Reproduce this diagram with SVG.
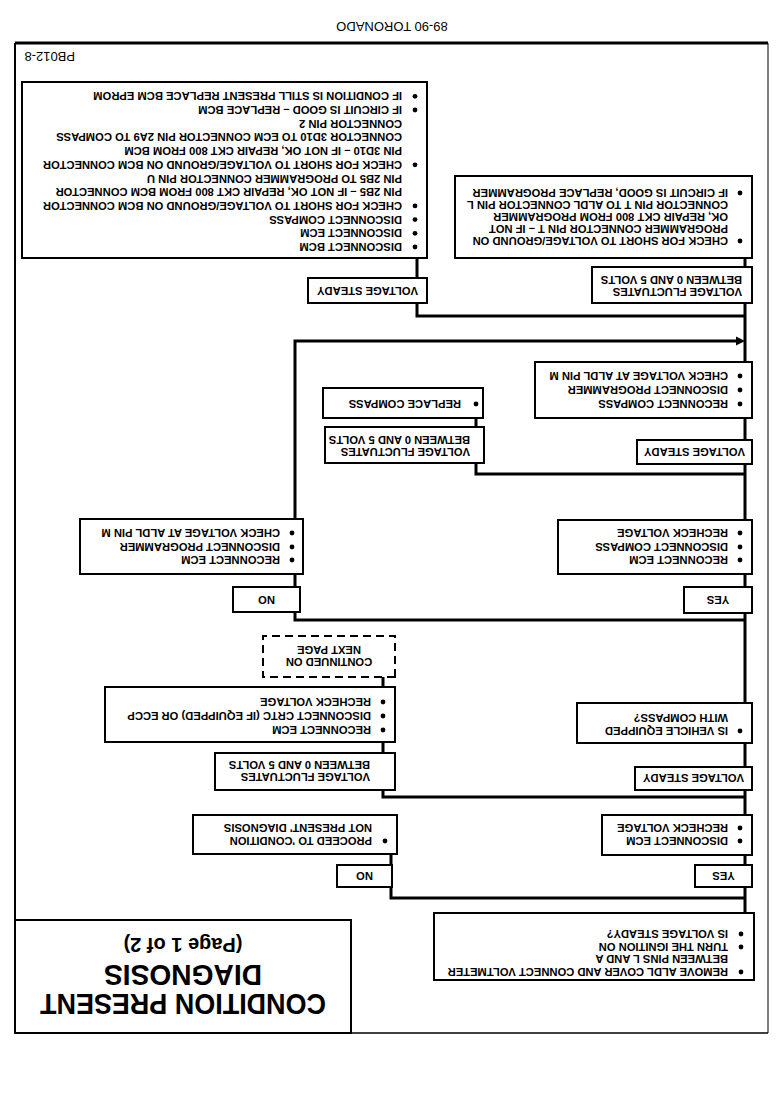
<svg xmlns="http://www.w3.org/2000/svg" width="784" height="1104" viewBox="0 0 784 1104">
<style>
.box{fill:#fff;stroke:#000;stroke-width:2}
.dash{fill:#fff;stroke:#000;stroke-width:2;stroke-dasharray:8 5}
.ln{fill:none;stroke:#000;stroke-width:3}
.fr{fill:none;stroke:#000}
.t{font-family:"Liberation Sans",Arial,sans-serif;font-weight:bold;font-size:11.2px;fill:#000}
.c{text-anchor:middle}
.h{font-family:"Liberation Sans",Arial,sans-serif;font-size:13px;fill:#000}
.ti{font-family:"Liberation Sans",Arial,sans-serif;font-weight:bold;fill:#000;text-anchor:middle}
.bu{fill:#000}
</style>
<rect width="784" height="1104" fill="#fff"/>
<g transform="rotate(180 392 552)">
<g id="frame">
<line class="fr" x1="16" y1="1061" x2="769" y2="1061" stroke-width="3"/>
<line class="fr" x1="769" y1="71" x2="769" y2="1061" stroke-width="2"/>
<line class="fr" x1="16" y1="71" x2="769" y2="71" stroke-width="1.5"/>
<line class="fr" x1="16" y1="71" x2="16" y2="1061" stroke-width="1"/>
<text class="h" x="392" y="1082" text-anchor="middle">89-90 TORONADO</text>
<text class="h" x="709" y="1052" font-size="12">PB012-8</text>
</g>
<g id="connectors">
<path class="ln" d="M39 191V846"/>
<path class="ln" d="M39 206H393V251"/>
<path class="ln" d="M39 307H401V427"/>
<path class="ln" d="M39 484H489V763H44"/>
<polygon class="bu" points="39,763 48,758.5 48,767.5"/>
<path class="ln" d="M39 630H308V686"/>
<path class="ln" d="M39 788H367V846"/>
</g>
<g id="title">
<rect class="box" x="433" y="71" width="336" height="113"/>
<text class="ti" x="601" y="110" font-size="29" textLength="286" lengthAdjust="spacingAndGlyphs">CONDITION PRESENT</text>
<text class="ti" x="601" y="139" font-size="29" textLength="158" lengthAdjust="spacingAndGlyphs">DIAGNOSIS</text>
<text class="ti" x="601" y="166" font-size="20">(Page 1 of 2)</text>
</g>
<g id="n-start">
<rect class="box" x="30" y="124" width="320" height="67"/>
<circle class="bu" cx="43" cy="132" r="2.4"/><circle class="bu" cx="43" cy="157" r="2.4"/><circle class="bu" cx="43" cy="170" r="2.4"/>
<text class="t" x="56" y="136" font-size="10.8">REMOVE ALDL COVER AND CONNECT VOLTMETER</text>
<text class="t" x="56" y="149" font-size="10.8">BETWEEN PINS L AND A</text>
<text class="t" x="56" y="161" font-size="10.8">TURN THE IGNITION ON</text>
<text class="t" x="56" y="174" font-size="10.8">IS VOLTAGE STEADY?</text>
</g>
<g id="n-yes1"><rect class="box" x="32" y="217" width="57" height="22"/><text class="t c" x="60.5" y="232">YES</text></g>
<g id="n-no1"><rect class="box" x="392" y="217" width="55" height="22"/><text class="t c" x="419.5" y="232">NO</text></g>
<g id="n-discecm">
<rect class="box" x="32" y="249" width="150" height="40"/>
<circle class="bu" cx="44" cy="263" r="2.4"/><circle class="bu" cx="44" cy="276" r="2.4"/>
<text class="t" x="56" y="267">DISCONNECT ECM</text>
<text class="t" x="56" y="280">RECHECK VOLTAGE</text>
</g>
<g id="n-proceed">
<rect class="box" x="387" y="250" width="204" height="39"/>
<circle class="bu" cx="399" cy="263" r="2.4"/>
<text class="t" x="412" y="267">PROCEED TO 'CONDITION</text>
<text class="t" x="412" y="280">NOT PRESENT' DIAGNOSIS</text>
</g>
<g id="n-steady2"><rect class="box" x="32" y="314" width="117" height="23"/><text class="t c" x="90.5" y="330">VOLTAGE STEADY</text></g>
<g id="n-fluct2">
<rect class="box" x="389" y="314" width="180" height="37"/>
<text class="t" x="414" y="331">VOLTAGE FLUCTUATES</text>
<text class="t" x="414" y="343">BETWEEN 0 AND 5 VOLTS</text>
</g>
<g id="n-compassq">
<rect class="box" x="32" y="361" width="175" height="40"/>
<circle class="bu" cx="44" cy="373" r="2.4"/>
<text class="t" x="56" y="377">IS VEHICLE EQUIPPED</text>
<text class="t" x="56" y="390">WITH COMPASS?</text>
</g>
<g id="n-crtc">
<rect class="box" x="389" y="362" width="290" height="55"/>
<circle class="bu" cx="401" cy="374" r="2.4"/><circle class="bu" cx="401" cy="388" r="2.4"/><circle class="bu" cx="401" cy="402" r="2.4"/>
<text class="t" x="413" y="378">RECONNECT ECM</text>
<text class="t" x="413" y="392">DISCONNECT CRTC (IF EQUIPPED) OR ECCP</text>
<text class="t" x="413" y="406">RECHECK VOLTAGE</text>
</g>
<g id="n-continued">
<rect class="dash" x="389" y="427" width="132" height="41"/>
<text class="t c" x="455" y="446">CONTINUED ON</text>
<text class="t c" x="455" y="458">NEXT PAGE</text>
</g>
<g id="n-yes2"><rect class="box" x="32" y="491" width="68" height="26"/><text class="t c" x="66" y="508">YES</text></g>
<g id="n-no2"><rect class="box" x="484" y="492" width="67" height="25"/><text class="t c" x="517.5" y="508">NO</text></g>
<g id="n-yesbox">
<rect class="box" x="32" y="530" width="194" height="54"/>
<circle class="bu" cx="44" cy="544" r="2.4"/><circle class="bu" cx="44" cy="557" r="2.4"/><circle class="bu" cx="44" cy="571" r="2.4"/>
<text class="t" x="56" y="548">RECONNECT ECM</text>
<text class="t" x="56" y="561">DISCONNECT COMPASS</text>
<text class="t" x="56" y="575">RECHECK VOLTAGE</text>
</g>
<g id="n-nobox">
<rect class="box" x="481" y="530" width="223" height="55"/>
<circle class="bu" cx="492" cy="544" r="2.4"/><circle class="bu" cx="492" cy="557" r="2.4"/><circle class="bu" cx="492" cy="571" r="2.4"/>
<text class="t" x="504" y="548">RECONNECT ECM</text>
<text class="t" x="504" y="561">DISCONNECT PROGRAMMER</text>
<text class="t" x="504" y="575">CHECK VOLTAGE AT ALDL PIN M</text>
</g>
<g id="n-fluct3">
<rect class="box" x="300" y="641" width="159" height="36"/>
<text class="t" x="314" y="656">VOLTAGE FLUCTUATES</text>
<text class="t" x="314" y="668">BETWEEN 0 AND 5 VOLTS</text>
</g>
<g id="n-replace">
<rect class="box" x="301" y="686" width="160" height="30"/>
<circle class="bu" cx="308" cy="700" r="2.4"/>
<text class="t" x="323" y="704">REPLACE COMPASS</text>
</g>
<g id="n-steady3"><rect class="box" x="32" y="640" width="115" height="24"/><text class="t c" x="89.5" y="656">VOLTAGE STEADY</text></g>
<g id="n-reccompass">
<rect class="box" x="32" y="686" width="217" height="56"/>
<circle class="bu" cx="44" cy="700" r="2.4"/><circle class="bu" cx="44" cy="714" r="2.4"/><circle class="bu" cx="44" cy="728" r="2.4"/>
<text class="t" x="56" y="704">RECONNECT COMPASS</text>
<text class="t" x="56" y="718">DISCONNECT PROGRAMMER</text>
<text class="t" x="56" y="732">CHECK VOLTAGE AT ALDL PIN M</text>
</g>
<g id="n-steady4"><rect class="box" x="357" y="801" width="119" height="25"/><text class="t c" x="416.5" y="817">VOLTAGE STEADY</text></g>
<g id="n-bcm">
<rect class="box" x="357" y="846" width="405" height="176"/>
<circle class="bu" cx="369" cy="857" r="2.4"/><circle class="bu" cx="369" cy="870.7" r="2.4"/><circle class="bu" cx="369" cy="884.4" r="2.4"/><circle class="bu" cx="369" cy="898.1" r="2.4"/><circle class="bu" cx="369" cy="939.2" r="2.4"/><circle class="bu" cx="369" cy="994" r="2.4"/><circle class="bu" cx="369" cy="1007.7" r="2.4"/>
<text class="t" x="382" y="861">DISCONNECT BCM</text>
<text class="t" x="382" y="874.7">DISCONNECT ECM</text>
<text class="t" x="382" y="888.4">DISCONNECT COMPASS</text>
<text class="t" x="382" y="902.1">CHECK FOR SHORT TO VOLTAGE/GROUND ON BCM CONNECTOR</text>
<text class="t" x="382" y="915.8">PIN 2B5 – IF NOT OK, REPAIR CKT 800 FROM BCM CONNECTOR</text>
<text class="t" x="382" y="929.5">PIN 2B5 TO PROGRAMMER CONNECTOR PIN U</text>
<text class="t" x="382" y="943.2">CHECK FOR SHORT TO VOLTAGE/GROUND ON BCM CONNECTOR</text>
<text class="t" x="382" y="956.9">PIN 3D10 – IF NOT OK, REPAIR CKT 800 FROM BCM</text>
<text class="t" x="382" y="970.6">CONNECTOR 3D10 TO ECM CONNECTOR PIN 2A9 TO COMPASS</text>
<text class="t" x="382" y="984.3">CONNECTOR PIN 2</text>
<text class="t" x="382" y="998">IF CIRCUIT IS GOOD – REPLACE BCM</text>
<text class="t" x="382" y="1011.7">IF CONDITION IS STILL PRESENT REPLACE BCM EPROM</text>
</g>
<g id="n-fluct4">
<rect class="box" x="32" y="801" width="160" height="36"/>
<text class="t" x="42" y="816">VOLTAGE FLUCTUATES</text>
<text class="t" x="42" y="828">BETWEEN 0 AND 5 VOLTS</text>
</g>
<g id="n-programmer">
<rect class="box" x="32" y="846" width="297" height="82"/>
<circle class="bu" cx="44" cy="863" r="2.4"/><circle class="bu" cx="44" cy="911" r="2.4"/>
<text class="t" x="56" y="867">CHECK FOR SHORT TO VOLTAGE/GROUND ON</text>
<text class="t" x="56" y="879">PROGRAMMER CONNECTOR PIN T – IF NOT</text>
<text class="t" x="56" y="891">OK, REPAIR CKT 800 FROM PROGRAMMER</text>
<text class="t" x="56" y="903">CONNECTOR PIN T TO ALDL CONNECTOR PIN L</text>
<text class="t" x="56" y="915">IF CIRCUIT IS GOOD, REPLACE PROGRAMMER</text>
</g>
</g>
</svg>
